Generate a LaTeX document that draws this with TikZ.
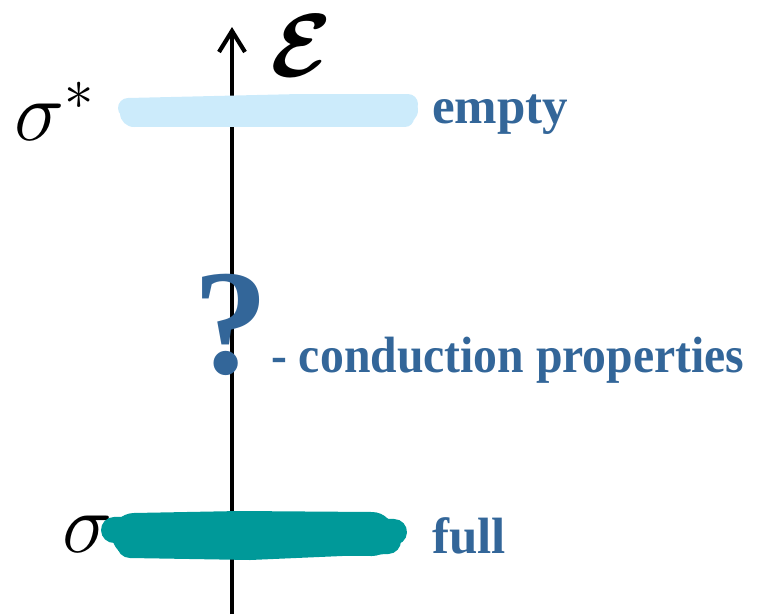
\documentclass[tikz,border=0pt]{standalone}
\usepackage{amsmath, bm}
\usepackage{fontspec}
\setmainfont{Liberation Serif}
\usetikzlibrary{arrows.meta, positioning}
\definecolor{labelblue}{RGB}{51, 102, 153}
\definecolor{tealband}{RGB}{0, 153, 153}
\definecolor{skyband}{RGB}{204, 235, 251}

\tikzset{
  label/.style={text=labelblue, font=\bfseries\fontsize{51}{51}\selectfont, inner sep=0pt},
  orbital/.style={text=black, font=\Huge, scale=3.4, inner sep=0pt},
  band/.style={line cap=round, line join=round}
}

\begin{document}
\begin{tikzpicture}[x=1pt, y=-1pt]
  \useasboundingbox (0,0) rectangle (761,614);
  \coordinate (axbot) at (232,614);
  \coordinate (axtop) at (232,27);
  \draw[line width=4.2pt, -{Straight Barb[length=21pt, width=26pt, line width=4.2pt]}] (axbot) -- (axtop);
  \node[text=black, font=\Huge, scale=3.6, inner sep=0pt] (eps) at (301,46) {$\boldsymbol{\mathcal{E}}$};
  % antibonding level, empty
  \node[orbital, anchor=base] (sstar) at (55,140) {$\sigma^{\scriptscriptstyle *}$};
  \draw[band, skyband, line width=28pt] (134,113) -- (250,111) -- (404,110);
  \draw[band, skyband, line width=20pt] (128,108) -- (300,104) -- (408,104);
  \draw[band, skyband, line width=18pt] (140,118) -- (405,118);
  \node[label, anchor=base west] (empty) at (432,123) {empty};
  % gap
  \node[label, font=\bfseries\fontsize{150}{150}\selectfont, anchor=base] (qmark) at (231,373) {?};
  \node[label, xscale=0.935, anchor=base west] (cond) at (271,372) {- conduction properties};
  % bonding level, full
  \node[orbital, anchor=base] (sbond) at (88,552) {$\sigma$};
  \draw[band, tealband, line width=44pt] (134,535) -- (240,533) -- (372,534);
  \draw[band, tealband, line width=26pt] (114,530) -- (250,526) -- (394,532);
  \draw[band, tealband, line width=26pt] (130,545) -- (250,547) -- (388,541);
  \node[label, anchor=base west] (full) at (432,553) {full};
\end{tikzpicture}
\end{document}
